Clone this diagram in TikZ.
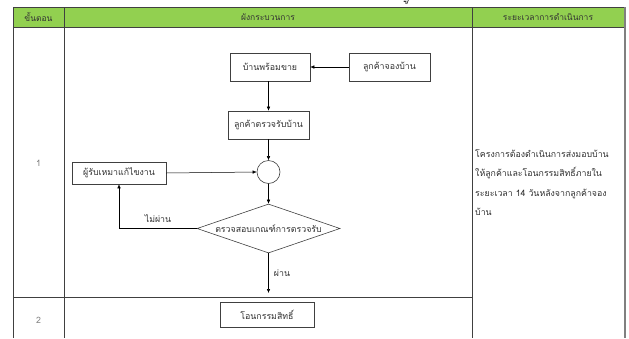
\documentclass[tikz,border=0pt]{standalone}
\usepackage{fontspec}
\newfontfamily\thai[Script=Thai]{Loma}
\usetikzlibrary{shapes.geometric,arrows.meta}
\definecolor{hdrgreen}{HTML}{92D050}
\definecolor{gridc}{HTML}{404040}
\definecolor{txtc}{HTML}{303030}
\begin{document}
\begin{tikzpicture}[x=1pt,y=-1pt,
  every node/.style={font=\thai\fontsize{8.8}{10}\selectfont, text=txtc},
  box/.style={draw=gridc, line width=0.6pt, rectangle, inner sep=0pt},
  conn/.style={draw=black, line width=0.5pt, -{Latex[length=4pt,width=3.5pt]}},
  grid/.style={draw=gridc, line width=0.8pt},
  hdr/.style={font=\thai\fontsize{8.5}{9}\selectfont, text=black!80}]
\useasboundingbox (0,0) rectangle (629,338);
% table
\fill[hdrgreen] (13,7) rectangle (624,27);
\draw[grid] (13,7) -- (624,7);
\draw[grid] (13,27) -- (624,27);
\draw[grid] (13,7) -- (13,338);
\draw[grid] (64,7) -- (64,338);
\draw[grid] (472,7) -- (472,338);
\draw[grid] (13,297) -- (472,297);
\draw[draw=gray, line width=1.2pt] (625,7) -- (625,338);
\node[hdr] (h1) at (38.5,17) {ขั้นตอน};
\node[hdr] (h2) at (268,17) {ผังกระบวนการ};
\node[hdr] (h3) at (548,17) {ระยะเวลาการดำเนินการ};
\node[font=\thai\fontsize{6}{6}\selectfont\bfseries, text=black] (mk) at (406,2) {ฯ/};
\node[text=gray] (n1) at (38.5,163) {1};
\node[text=gray] (n2) at (38.5,320) {2};
% flow
\node[box, minimum width=80pt, minimum height=28pt] (b1) at (270,67) {บ้านพร้อมขาย};
\node[box, minimum width=81pt, minimum height=28pt] (b2) at (389.5,67) {ลูกค้าจองบ้าน};
\node[box, minimum width=81pt, minimum height=28pt] (b3) at (268.5,125) {ลูกค้าตรวจรับบ้าน};
\node[draw=gridc, line width=0.6pt, circle, minimum size=23pt, inner sep=0pt] (c) at (268.5,172) {};
\node[box, minimum width=94pt, minimum height=22pt] (b4) at (119,173) {ผู้รับเหมาแก้ไขงาน};
\node[draw=gridc, line width=0.6pt, diamond, aspect=2.9, inner sep=0pt, minimum width=143pt, minimum height=49pt] (d) at (268.5,228.5) {ตรวจสอบเกณฑ์การตรวจรับ};
\node[box, minimum width=94pt, minimum height=25pt] (b5) at (267,314.5) {โอนกรรมสิทธิ์};
\coordinate (pe) at (268.5,293);
\draw[conn] (b2.west) -- (b1.east);
\draw[conn] (b1.south -| b3.north) -- (b3.north);
\draw[conn] (b3.south) -- (c.north);
\draw[conn] (b4.east) -- (c.west);
\draw[conn] (c.south) -- (d.north);
\draw[conn] (d.west) -| (b4.south);
\draw[conn] (d.south) -- (pe);
\node (l1) at (158,219) {ไม่ผ่าน};
\node (l2) at (282,273) {ผ่าน};
\node[anchor=north west, inner sep=0pt, align=left, font=\thai\fontsize{8.8}{19.5}\selectfont] (rt) at (475,149) {โครงการต้องดำเนินการส่งมอบบ้าน\\ให้ลูกค้าและโอนกรรมสิทธิ์ภายใน\\ระยะเวลา 14 วันหลังจากลูกค้าจอง\\บ้าน};
\end{tikzpicture}
\end{document}
